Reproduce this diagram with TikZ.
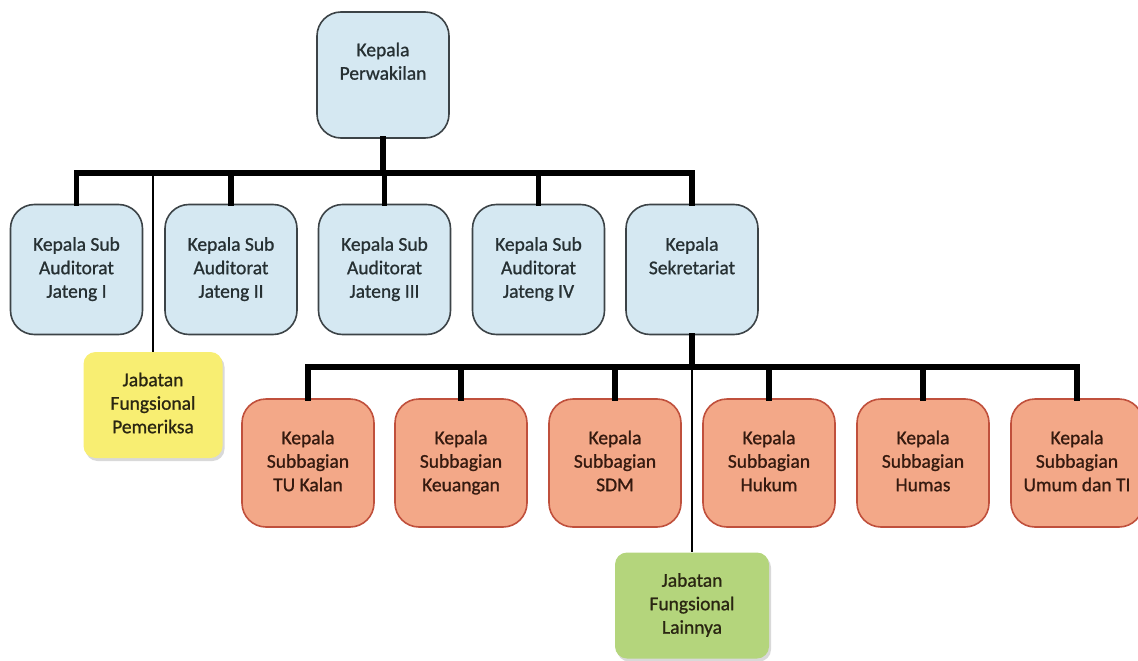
\documentclass[tikz,border=0pt]{standalone}
\usepackage{fontspec}
\setmainfont{Carlito}
\newfontfamily\boxfont{Carlito}[FakeBold=0.9]
\usetikzlibrary{shadows}
\definecolor{bluefill}{HTML}{D5E8F2}
\definecolor{blueline}{HTML}{3C4347}
\definecolor{bluetext}{HTML}{263033}
\definecolor{orfill}{HTML}{F3A888}
\definecolor{orline}{HTML}{C0503C}
\definecolor{ortext}{HTML}{351A0F}
\definecolor{yelfill}{HTML}{F8EE72}
\definecolor{grnfill}{HTML}{B4D57C}
\definecolor{darktext}{HTML}{2A2612}
\tikzset{
  box/.style={rectangle, rounded corners=24pt, minimum width=132pt, minimum height=130pt,
    inner sep=0pt, align=center, font=\boxfont\fontsize{19.5}{23.5}\selectfont},
  bluebox/.style={box, fill=bluefill, draw=blueline, line width=1.6pt, text=bluetext},
  orbox/.style={box, minimum height=128pt, fill=orfill, draw=orline, line width=1.6pt, text=ortext},
  fbox/.style={rectangle, rounded corners=12pt, minimum width=139pt, minimum height=106pt,
    inner sep=0pt, align=center, font=\boxfont\fontsize{19.5}{23.5}\selectfont, text=darktext,
    drop shadow={shadow xshift=2pt, shadow yshift=-3pt, opacity=0.25, fill=black!60}},
  busline/.style={line width=5.5pt, line join=miter, line cap=rect},
  thinline/.style={line width=2pt},
}
\begin{document}
\begin{tikzpicture}[x=1pt, y=-1pt]
\useasboundingbox (0,0) rectangle (1138,661);
\clip (0,0) rectangle (1138,661);
% top
\node[bluebox, minimum height=126pt] (kp) at (383,75) {Kepala\strut\\Perwakilan\strut\\\strut};
% row 2
\node[bluebox] (s1) at (76.5,269.5) {Kepala Sub\strut\\Auditorat\strut\\Jateng I\strut};
\node[bluebox] (s2) at (231,269.5) {Kepala Sub\strut\\Auditorat\strut\\Jateng II\strut};
\node[bluebox] (s3) at (384.5,269.5) {Kepala Sub\strut\\Auditorat\strut\\Jateng III\strut};
\node[bluebox] (s4) at (538.5,269.5) {Kepala Sub\strut\\Auditorat\strut\\Jateng IV\strut};
\node[bluebox] (sek) at (692,269.5) {Kepala\strut\\Sekretariat\strut\\\strut};
% fungsional pemeriksa
\node[fbox, fill=yelfill] (jfp) at (153,405) {Jabatan\strut\\Fungsional\strut\\Pemeriksa\strut};
% row 3
\node[orbox] (u1) at (308,463) {Kepala\strut\\Subbagian\strut\\TU Kalan\strut};
\node[orbox] (u2) at (461,463) {Kepala\strut\\Subbagian\strut\\Keuangan\strut};
\node[orbox] (u3) at (615,463) {Kepala\strut\\Subbagian\strut\\SDM\strut};
\node[orbox] (u4) at (769,463) {Kepala\strut\\Subbagian\strut\\Hukum\strut};
\node[orbox] (u5) at (923,463) {Kepala\strut\\Subbagian\strut\\Humas\strut};
\node[orbox] (u6) at (1077,463) {Kepala\strut\\Subbagian\strut\\Umum dan TI\strut};
% fungsional lainnya
\node[fbox, fill=grnfill, minimum width=154pt] (jfl) at (692,605.5) {Jabatan\strut\\Fungsional\strut\\Lainnya\strut};
% buses
\coordinate (b1) at (0,173);
\coordinate (b2) at (0,367);
\draw[busline] (kp.south) -- (kp.south |- b1);
\draw[busline] (s1.north) -- (s1.north |- b1) -- (sek.north |- b1) -- (sek.north);
\draw[busline] (s2.north) -- (s2.north |- b1);
\draw[busline] (s3.north) -- (s3.north |- b1);
\draw[busline] (s4.north) -- (s4.north |- b1);
\draw[thinline] (jfp.north |- b1) -- (jfp.north);
\draw[busline] (sek.south) -- (sek.south |- b2);
\draw[busline] (u1.north) -- (u1.north |- b2) -- (u6.north |- b2) -- (u6.north);
\draw[busline] (u2.north) -- (u2.north |- b2);
\draw[busline] (u3.north) -- (u3.north |- b2);
\draw[busline] (u4.north) -- (u4.north |- b2);
\draw[busline] (u5.north) -- (u5.north |- b2);
\draw[thinline] (jfl.north |- b2) -- (jfl.north);
\end{tikzpicture}
\end{document}
